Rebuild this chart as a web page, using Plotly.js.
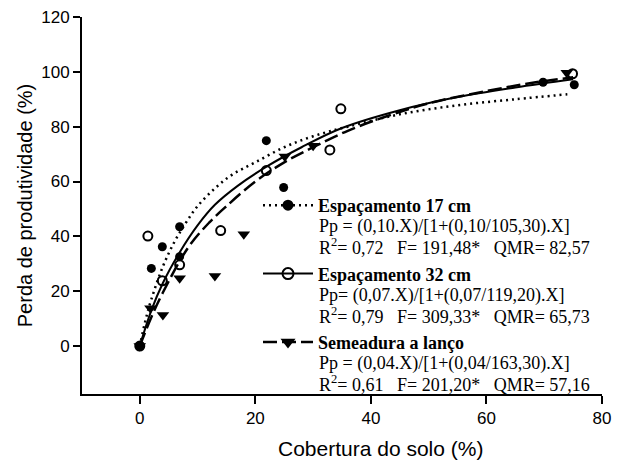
<!DOCTYPE html>
<html><head><meta charset="utf-8">
<script src="https://cdn.plot.ly/plotly-3.0.1.min.js"></script>
<style>html,body{margin:0;padding:0;background:#fff}#chart{width:617px;height:461px}</style>
</head><body><div id="chart"></div>
<script>
// ---- observed points ----
const x17 = [0, 2.0, 3.9, 6.9, 6.9, 21.9, 24.9, 69.8, 75.2];
const y17 = [0, 28.3, 36.2, 43.5, 32.6, 74.9, 57.8, 96.2, 95.3];
const x32 = [0, 1.4, 3.9, 6.9, 14.0, 21.9, 32.9, 34.8, 74.9];
const y32 = [0, 40.1, 23.8, 29.6, 42.1, 64.0, 71.5, 86.5, 99.3];
const xLanco = [0, 1.85, 4.0, 6.9, 13.0, 18.0, 25.1, 30.0, 73.9];
const yLanco = [0, 13.8, 11.3, 24.7, 25.5, 40.8, 69.1, 73.0, 99.7];

// ---- fitted curves ----
const cx17 = [0, 1, 2, 4, 6, 8, 10, 13, 16, 20, 25, 30, 36, 45, 55, 65, 74];
const cy17 = [0, 9.5, 17, 29, 38, 45, 51, 57.5, 62.5, 67, 72.5, 76.5, 80, 84.5, 87.8, 90, 91.8];
const cx32 = [0, 2, 4, 7, 10, 13, 17, 22, 28, 35, 45, 55, 65, 75];
const cy32 = [0, 13, 23, 34.5, 44, 51.5, 58.5, 65.5, 72.5, 79.5, 86, 90.8, 94.3, 97.3];
const cxLanco = [0, 2, 4, 8.4, 12, 15, 20, 25, 30, 36, 43, 50, 60, 68, 75];
const cyLanco = [0, 10.5, 19.5, 36, 45, 51, 60, 67, 72.5, 78.5, 84, 88.5, 93, 96, 98];

// ---- texts ----
const seriesNames = ['Espaçamento 17 cm', 'Espaçamento 32 cm', 'Semeadura a lanço'];
const equations = [
  'Pp = (0,10.X)/[1+(0,10/105,30).X]',
  'Pp= (0,07.X)/[1+(0,07/119,20).X]',
  'Pp = (0,04.X)/[1+(0,04/163,30).X]'
];
const stats = [
  'R<sup>2</sup>= 0,72\u00A0\u00A0\u00A0F= 191,48*\u00A0\u00A0\u00A0QMR= 82,57',
  'R<sup>2</sup>= 0,79\u00A0\u00A0\u00A0F= 309,33*\u00A0\u00A0\u00A0QMR= 65,73',
  'R<sup>2</sup>= 0,61\u00A0\u00A0\u00A0F= 201,20*\u00A0\u00A0\u00A0QMR= 57,16'
];
const xTicks = [0, 20, 40, 60, 80];
const yTicks = [0, 20, 40, 60, 80, 100, 120];
const xTitle = 'Cobertura do solo (%)';
const yTitle = 'Perda de produtividade (%)';

// ---- geometry helpers (pixel -> paper) ----
const P = {l: 82, r: 602, t: 17, b: 394};
const px = v => (v - P.l) / (P.r - P.l);
const py = v => (P.b - v) / (P.b - P.t);

const serif = 'Liberation Serif, Times New Roman, serif';
const sans = 'Liberation Sans, Arial, sans-serif';

const lineStyles = [
  {color: 'black', width: 2.5, dash: '2px,4px'},
  {color: 'black', width: 2},
  {color: 'black', width: 2.5, dash: '14px,5px'}
];
const markerStyles = [
  {symbol: 'circle', size: 9, color: 'black'},
  {symbol: 'circle-open', size: 9, color: 'black', line: {width: 2, color: 'black'}},
  {symbol: 'triangle-down', size: 11, color: 'black'}
];
const legendMarkers = [
  {symbol: 'circle', size: 11, color: 'black'},
  {symbol: 'circle-open', size: 11, color: 'black', line: {width: 2, color: 'black'}},
  {symbol: 'triangle-down', size: 13, color: 'black'}
];

const curves = [[cx17, cy17], [cx32, cy32], [cxLanco, cyLanco]];
const points = [[x17, y17], [x32, y32], [xLanco, yLanco]];

const traces = [];
for (let i = 0; i < 3; i++) {
  traces.push({x: curves[i][0], y: curves[i][1], mode: 'lines', line: Object.assign({shape: 'spline', smoothing: 1}, lineStyles[i]),
    showlegend: false, hoverinfo: 'skip', cliponaxis: false});
}
for (let i = 0; i < 3; i++) {
  traces.push({x: points[i][0], y: points[i][1], mode: 'markers', marker: markerStyles[i], showlegend: false, cliponaxis: false});
}
for (let i = 0; i < 3; i++) {
  traces.push({x: [null], y: [null], mode: 'lines+markers', name: '<b>' + seriesNames[i] + '</b>',
    legendgroup: 'g' + i, line: lineStyles[i], marker: legendMarkers[i], showlegend: true});
}

const firstLineY = [206, 274.5, 343];
const annotations = [];
for (let i = 0; i < 3; i++) {
  annotations.push({xref: 'paper', yref: 'paper', x: px(318), y: py(firstLineY[i] + 20.5), xanchor: 'left', yanchor: 'middle',
    text: equations[i], showarrow: false, font: {family: serif, size: 18, color: 'black'}, borderpad: 0});
  annotations.push({xref: 'paper', yref: 'paper', x: px(318), y: py(firstLineY[i] + 40.5), xanchor: 'left', yanchor: 'middle',
    text: stats[i], showarrow: false, font: {family: serif, size: 18, color: 'black'}, borderpad: 0});
}
annotations.push({xref: 'paper', yref: 'paper', x: px(380), y: py(448), xanchor: 'center', yanchor: 'middle',
  text: xTitle, showarrow: false, font: {family: sans, size: 21, color: 'black'}, borderpad: 0});

const layout = {
  width: 617, height: 461,
  margin: {l: P.l, r: 617 - P.r, t: P.t, b: 461 - P.b, pad: 0},
  paper_bgcolor: 'white', plot_bgcolor: 'white',
  showlegend: true,
  legend: {x: px(258), y: py(187), xanchor: 'left', yanchor: 'top', bgcolor: 'rgba(0,0,0,0)',
    traceorder: 'grouped', tracegroupgap: 42, itemwidth: 50, valign: 'middle',
    font: {family: serif, size: 18, color: 'black'}},
  xaxis: {range: [-10, 80], tickvals: xTicks, ticks: 'outside', ticklen: 8, tickwidth: 2, tickcolor: 'black',
    showline: true, linewidth: 2, linecolor: 'black', showgrid: false, zeroline: false, mirror: false,
    tickfont: {family: sans, size: 17, color: 'black'}, automargin: false},
  yaxis: {range: [-17.5, 120], tickvals: yTicks, ticks: 'outside', ticklen: 7, tickwidth: 2, tickcolor: 'black',
    showline: true, linewidth: 2, linecolor: 'black', showgrid: false, zeroline: false, mirror: false,
    tickfont: {family: sans, size: 17, color: 'black'},
    title: {text: yTitle, font: {family: sans, size: 20, color: 'black'}, standoff: 3}, automargin: false},
  annotations: annotations
};

Plotly.newPlot('chart', traces, layout, {displayModeBar: false, staticPlot: true});
</script>
</body></html>
